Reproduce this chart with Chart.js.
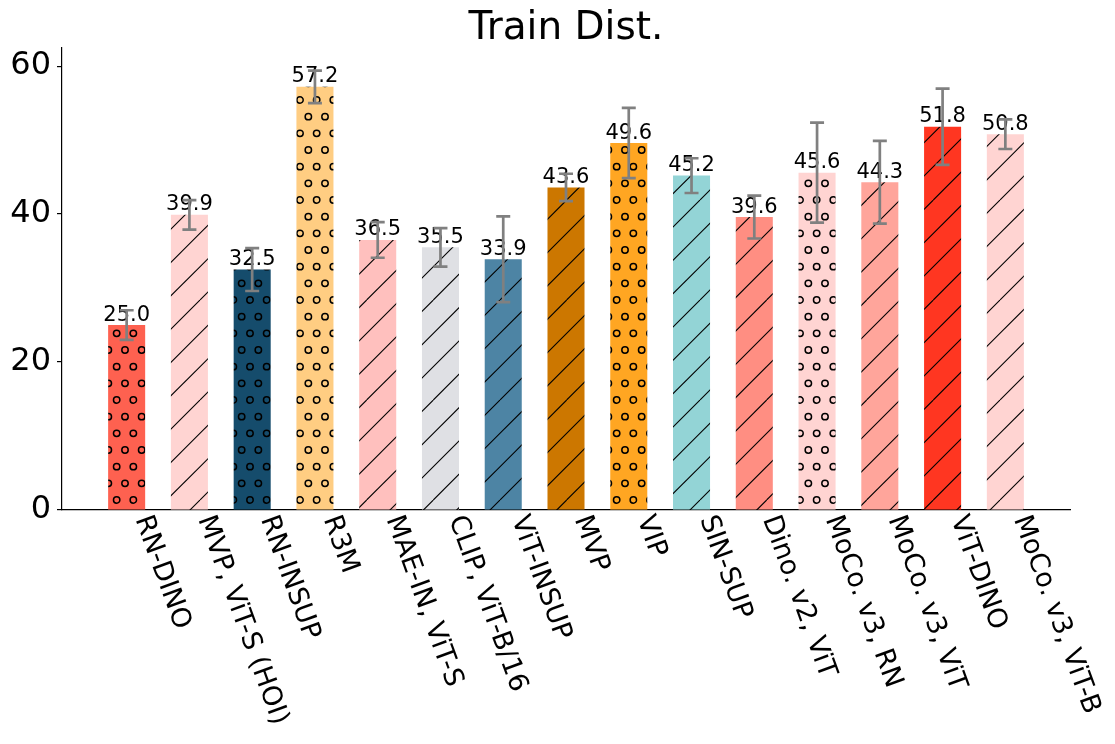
<!DOCTYPE html>
<html>
<head>
<meta charset="utf-8">
<script src="https://cdn.jsdelivr.net/npm/chart.js@4.4.1/dist/chart.umd.min.js"></script>
<style>
  body { margin: 0; background: #fff; }
  #wrap { width: 1115px; height: 744px; }
</style>
</head>
<body>
<div id="wrap"><canvas id="barChart" width="1115" height="744"></canvas></div>
<script>
// values
const models = ['RN-DINO', 'MVP, ViT-S (HOI)', 'RN-INSUP', 'R3M', 'MAE-IN, ViT-S', 'CLIP, ViT-B/16',
  'ViT-INSUP', 'MVP', 'VIP', 'SIN-SUP', 'Dino. v2, ViT', 'MoCo. v3, RN', 'MoCo. v3, ViT', 'ViT-DINO',
  'MoCo. v3, ViT-B'];
const scores = [25.0, 39.9, 32.5, 57.2, 36.5, 35.5, 33.9, 43.6, 49.6, 45.2, 39.6, 45.6, 44.3, 51.8, 50.8];
const errors = [2.0, 2.0, 2.9, 2.2, 2.4, 2.6, 5.8, 1.85, 4.75, 2.35, 2.9, 6.75, 5.6, 5.15, 2.0];
const barColors = ['#fe6150', '#ffd4d2', '#154c6c', '#ffcd82', '#ffc0be', '#dfe0e4', '#4d84a4',
  '#cc7700', '#ffa622', '#93d4d6', '#ff8e82', '#ffd4d2', '#ffa59b', '#ff3621', '#ffd4d2'];
const hatches = ['o', '/', 'o', 'o', '/', '/', '/', '/', 'o', '/', '/', 'o', '/', '/', '/'];
const yTicks = [0, 20, 40, 60];

const FONT = 'DejaVu Sans';

// build a 100px hatch tile, anchored to the canvas origin like matplotlib does
function makeHatch(color, kind) {
  const tile = document.createElement('canvas');
  tile.width = 100;
  tile.height = 100;
  const c = tile.getContext('2d');
  c.fillStyle = color;
  c.fillRect(0, 0, 100, 100);
  c.strokeStyle = '#000';
  if (kind === '/') {
    c.lineWidth = 1.1;
    for (let n = 0; n <= 6; n++) {
      const k = n * 100 / 3;
      c.beginPath();
      c.moveTo(k, 0);
      c.lineTo(k - 100, 100);
      c.stroke();
    }
  } else {
    c.lineWidth = 1.5;
    const step = 100 / 6;
    for (let j = -1; j <= 6; j++) {
      const shift = (j % 2 === 0) ? 0 : step / 2;
      for (let k = -1; k <= 6; k++) {
        c.beginPath();
        c.arc(k * step + shift, j * step, 3.2, 0, Math.PI * 2);
        c.stroke();
      }
    }
  }
  return c.createPattern(tile, 'repeat');
}

const decorations = {
  id: 'decorations',
  afterDatasetsDraw(chart) {
    const ctx = chart.ctx;
    const xs = chart.scales.x;
    const ys = chart.scales.y;
    ctx.save();

    // value labels
    ctx.fillStyle = '#000';
    ctx.font = '21px "' + FONT + '"';
    ctx.textAlign = 'center';
    ctx.textBaseline = 'alphabetic';
    scores.forEach((v, i) => {
      ctx.fillText(v.toFixed(1), xs.getPixelForValue(i), ys.getPixelForValue(v) - 4.5);
    });

    // error bars
    ctx.strokeStyle = '#808080';
    ctx.lineWidth = 2.7;
    scores.forEach((v, i) => {
      const x = xs.getPixelForValue(i);
      const lo = ys.getPixelForValue(v - errors[i]);
      const hi = ys.getPixelForValue(v + errors[i]);
      ctx.beginPath();
      ctx.moveTo(x, lo);
      ctx.lineTo(x, hi);
      ctx.moveTo(x - 7, lo);
      ctx.lineTo(x + 7, lo);
      ctx.moveTo(x - 7, hi);
      ctx.lineTo(x + 7, hi);
      ctx.stroke();
    });

    // rotated category labels (-70 deg, starting at the tick)
    ctx.fillStyle = '#000';
    ctx.font = '27px "' + FONT + '"';
    ctx.textAlign = 'left';
    ctx.textBaseline = 'alphabetic';
    const base = chart.chartArea.bottom;
    models.forEach((name, i) => {
      ctx.save();
      ctx.translate(xs.getPixelForValue(i) + 8.5, base + 9);
      ctx.rotate(70 * Math.PI / 180);
      ctx.fillText(name, 0, 0);
      ctx.restore();
    });
    ctx.restore();
  }
};

const ctx = document.getElementById('barChart').getContext('2d');
const chart = new Chart(ctx, {
  type: 'bar',
  data: {
    datasets: [{
      data: scores.map((v, i) => ({ x: i, y: v })),
      backgroundColor: barColors.map((c, i) => makeHatch(c, hatches[i])),
      borderWidth: 0,
      categoryPercentage: 1,
      barPercentage: 0.59
    }]
  },
  options: {
    responsive: false,
    animation: false,
    devicePixelRatio: 1,
    layout: { padding: { left: 0, right: 45, top: 0, bottom: 0 } },
    plugins: {
      legend: { display: false },
      tooltip: { enabled: false },
      title: {
        display: true,
        text: 'Train Dist.',
        fullSize: false,
        color: '#000',
        font: { family: FONT, size: 39, weight: 'normal', lineHeight: 1 },
        padding: { top: 9, bottom: 0 }
      }
    },
    scales: {
      x: {
        type: 'linear',
        offset: false,
        min: -1.03,
        max: 15.03,
        ticks: { display: false },
        grid: { display: false, offset: false },
        border: { display: true, color: '#000', width: 1.2 },
        afterFit(scale) { scale.height = 234; }
      },
      y: {
        min: 0,
        max: 62.45,
        afterBuildTicks(scale) { scale.ticks = yTicks.map(v => ({ value: v })); },
        ticks: {
          color: '#000',
          padding: 6,
          font: { family: FONT, size: 32 }
        },
        grid: { display: true, drawOnChartArea: false, drawTicks: true, tickLength: 5, color: '#000', lineWidth: 1.2 },
        border: { display: true, color: '#000', width: 1.2 },
        afterFit(scale) { scale.width = 62; }
      }
    }
  },
  plugins: [decorations]
});
</script>
</body>
</html>
